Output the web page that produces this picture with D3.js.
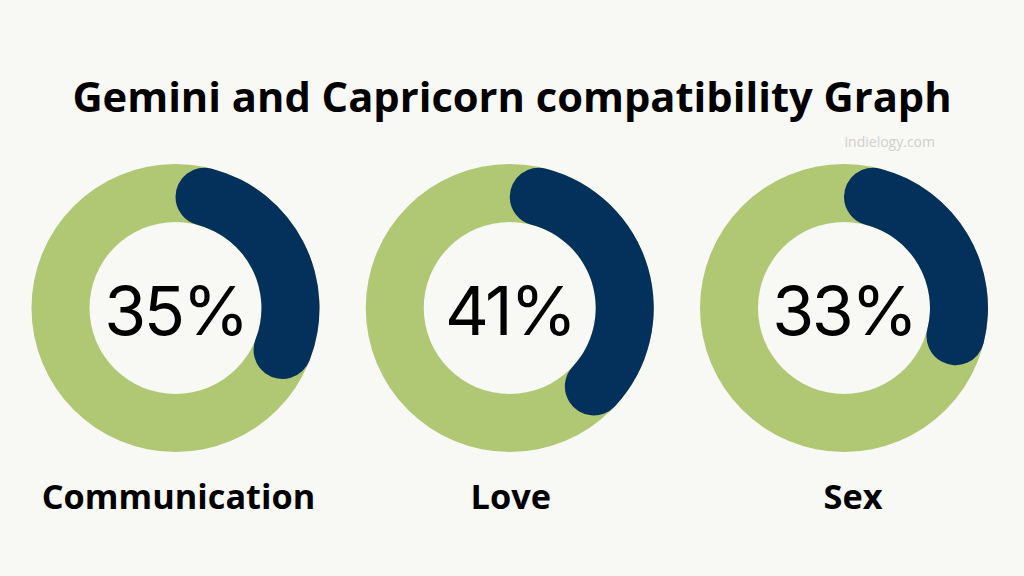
<!DOCTYPE html>
<html>
<head>
<meta charset="utf-8">
<script src="https://cdn.jsdelivr.net/npm/d3@7"></script>
<style>
  html, body { margin: 0; padding: 0; background: #f8f8f4; }
  svg { display: block; }
</style>
</head>
<body>
<svg id="chart" width="1024" height="576"></svg>
<script>
// Data
const categories = ["Communication", "Love", "Sex"];
const values = [35, 41, 33];
const valueLabels = ["35%", "41%", "33%"];
const titleText = "Gemini and Capricorn compatibility Graph";
const sourceText = "indielogy.com";

const W = 1024, H = 576;
const svg = d3.select("#chart");
svg.append("rect").attr("width", W).attr("height", H).attr("fill", "#f8f8f4");

const centersX = d3.scalePoint().domain(categories).range([175.5, 844]);
const cy = 308;
const outerR = 144, innerR = 86;
const angle = d3.scaleLinear().domain([0, 100]).range([0, 2 * Math.PI]);

const bgArc = d3.arc().innerRadius(innerR).outerRadius(outerR).startAngle(0).endAngle(2 * Math.PI);
const valArc = d3.arc().innerRadius(innerR).outerRadius(outerR)
  .cornerRadius((outerR - innerR) / 2).startAngle(0).endAngle(d => angle(d));

svg.append("text")
  .attr("x", 512).attr("y", 112)
  .attr("text-anchor", "middle")
  .attr("font-family", "'Open Sans', sans-serif")
  .attr("font-weight", 700)
  .attr("font-size", 41.7)
  .attr("fill", "#000")
  .text(titleText);

svg.append("text")
  .attr("x", 935).attr("y", 147)
  .attr("text-anchor", "end")
  .attr("font-family", "'Open Sans', sans-serif")
  .attr("font-size", 14)
  .attr("fill", "#cfcfcf")
  .text(sourceText);

const g = svg.selectAll("g.donut").data(categories).join("g")
  .attr("class", "donut")
  .attr("transform", d => `translate(${centersX(d)},${cy})`);

g.append("path").attr("d", bgArc()).attr("fill", "#b0c774");
g.append("path").attr("d", (d, i) => valArc(values[i])).attr("fill", "#03315b");
g.append("text")
  .attr("y", 27)
  .attr("text-anchor", "middle")
  .attr("font-family", "Inter, 'Open Sans', sans-serif")
  .attr("font-weight", 400)
  .attr("font-size", 68)
  .attr("letter-spacing", -2.5)
  .attr("fill", "#000")
  .text((d, i) => valueLabels[i]);

const labelOffset = [3, 1, 9];
svg.selectAll("text.cat").data(categories).join("text")
  .attr("class", "cat")
  .attr("x", (d, i) => centersX(d) + labelOffset[i])
  .attr("y", 509)
  .attr("text-anchor", "middle")
  .attr("font-family", "'Open Sans', sans-serif")
  .attr("font-weight", 700)
  .attr("font-size", 34.3)
  .attr("fill", "#000")
  .text(d => d);
</script>
</body>
</html>
